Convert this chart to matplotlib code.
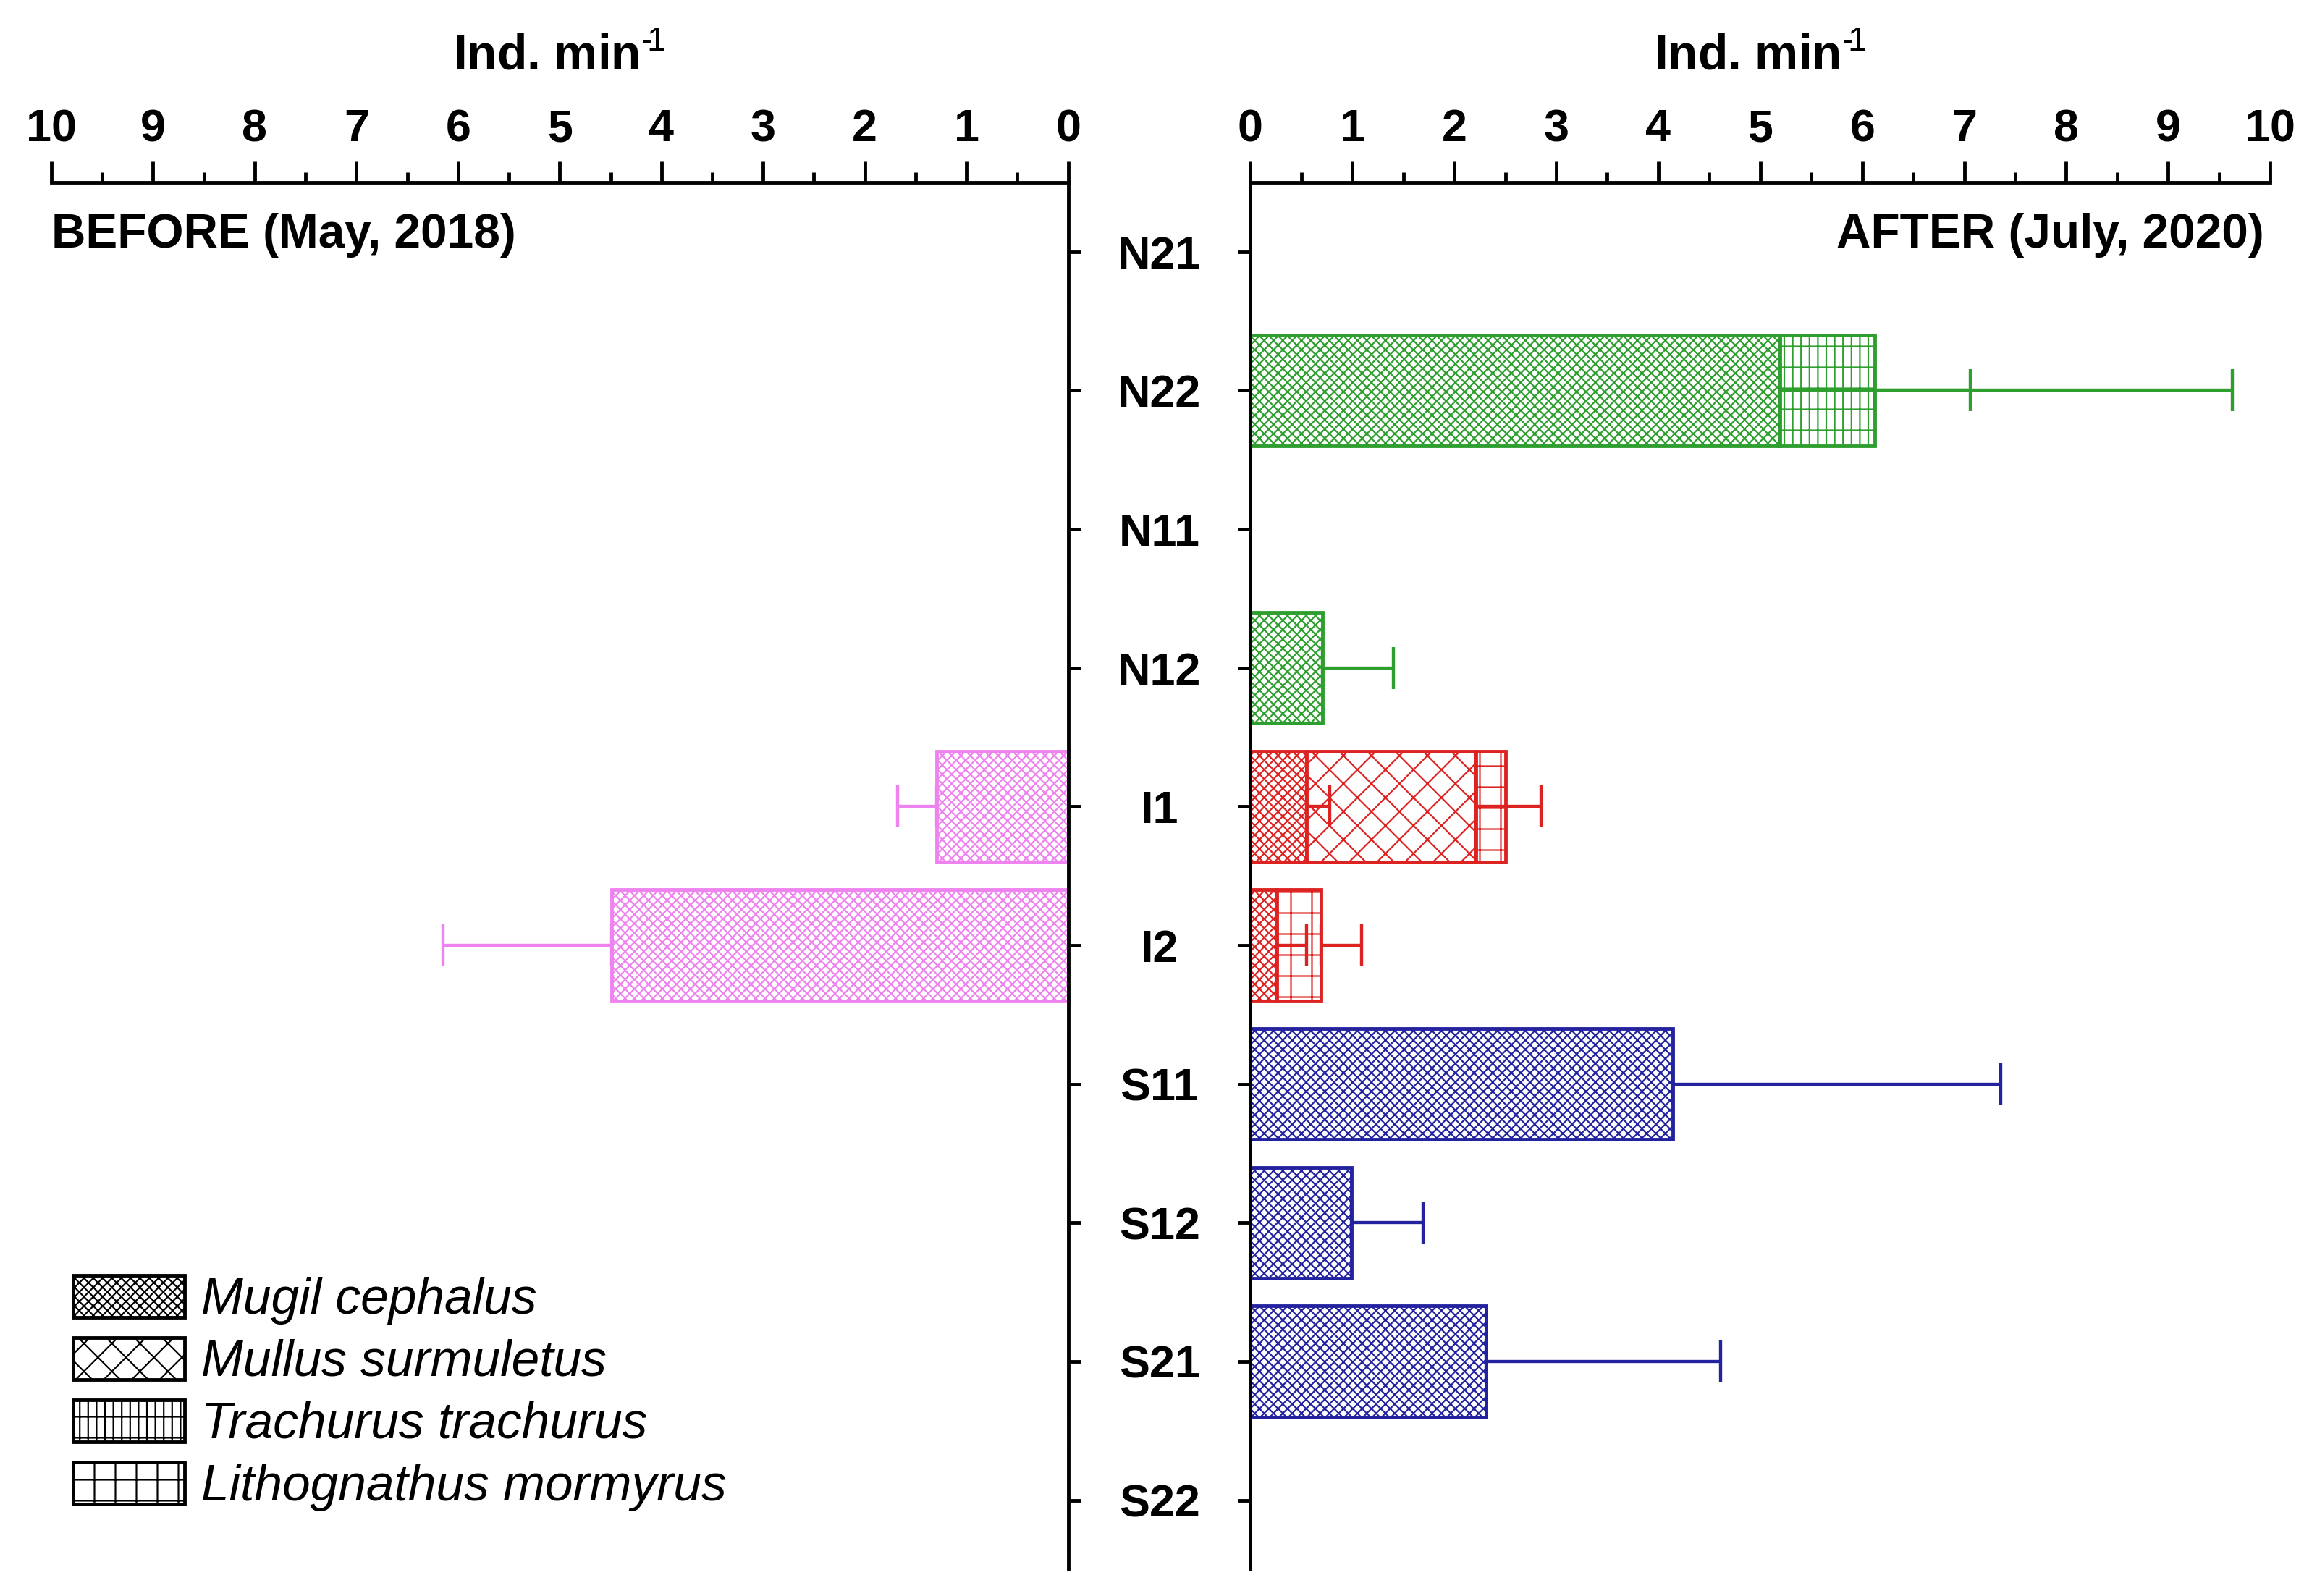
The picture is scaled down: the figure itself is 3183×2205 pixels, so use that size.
"""Before/after fish abundance per station, mirrored horizontal stacked bars."""

import matplotlib

matplotlib.use("Agg")
import matplotlib.pyplot as plt
import numpy as np
from matplotlib.patches import Patch
from matplotlib.ticker import MultipleLocator

# Stations (top to bottom) and species
stations = ["N21", "N22", "N11", "N12", "I1", "I2", "S11", "S12", "S21", "S22"]
species = ["Mugil cephalus", "Mullus surmuletus", "Trachurus trachurus", "Lithognathus mormyrus"]

# BEFORE (May, 2018): only Mugil cephalus recorded
before_mugil = [0, 0, 0, 0, 1.29, 4.49, 0, 0, 0, 0]
before_mugil_err = [0, 0, 0, 0, 0.39, 1.66, 0, 0, 0, 0]

# AFTER (July, 2020): stacked per species
after_mugil = [0, 5.19, 0, 0.71, 0.55, 0.26, 4.14, 0.99, 2.31, 0]
after_mugil_err = [0, 1.87, 0, 0.69, 0.23, 0.29, 3.22, 0.70, 2.30, 0]
after_mullus = [0, 0, 0, 0, 1.66, 0, 0, 0, 0, 0]
after_mullus_err = [0, 0, 0, 0, 0.64, 0, 0, 0, 0, 0]
after_trachurus = [0, 0.93, 0, 0, 0, 0, 0, 0, 0, 0]
after_trachurus_err = [0, 3.51, 0, 0, 0, 0, 0, 0, 0, 0]
after_litho = [0, 0, 0, 0, 0.29, 0.43, 0, 0, 0, 0]
after_litho_err = [0, 0, 0, 0, 0, 0.40, 0, 0, 0, 0]

xticks = list(range(0, 11))

# Styles
HATCHES = {"Mugil cephalus": "x" * 9, "Mullus surmuletus": "xxx",
           "Trachurus trachurus": "++|||", "Lithognathus mormyrus": "++"}
GROUP_COLORS = {"N": "#2e9e2e", "I": "#dd2222", "S": "#2323a0"}
BEFORE_COLOR = "#ee82ee"

DPI = 348
plt.rcParams["font.family"] = ["Liberation Sans", "DejaVu Sans"]
plt.rcParams["mathtext.fontset"] = "custom"
plt.rcParams["mathtext.bf"] = "Liberation Sans:bold"
plt.rcParams["mathtext.rm"] = "Liberation Sans"
plt.rcParams["hatch.linewidth"] = 0.45

fig = plt.figure(figsize=(3183 / DPI, 2205 / DPI), dpi=DPI)
ax_l = fig.add_axes([0.0223, 0.0166, 0.4413, 0.8692])
ax_r = fig.add_axes([0.5427, 0.0166, 0.4426, 0.8692])

y = np.arange(len(stations))
station_colors = [GROUP_COLORS[s[0]] for s in stations]
bar_h = 0.8


def draw_errors(ax, ends, errs, colors):
    for yi, e, v, c in zip(y, errs, ends, colors):
        if e > 0:
            ax.errorbar(v, yi, xerr=[[0], [e]], fmt="none", ecolor=c,
                        elinewidth=0.9, capsize=6, capthick=0.9, zorder=3)


# Left: BEFORE
ax_l.barh(y, before_mugil, height=bar_h, color="white", edgecolor=BEFORE_COLOR,
          hatch=HATCHES["Mugil cephalus"], linewidth=1.0, zorder=2)
draw_errors(ax_l, before_mugil, before_mugil_err, [BEFORE_COLOR] * len(y))

# Right: AFTER stacked
left = np.zeros(len(y))
for name, vals, errs in [
    ("Mugil cephalus", after_mugil, after_mugil_err),
    ("Mullus surmuletus", after_mullus, after_mullus_err),
    ("Trachurus trachurus", after_trachurus, after_trachurus_err),
    ("Lithognathus mormyrus", after_litho, after_litho_err),
]:
    vals = np.array(vals)
    mask = vals > 0
    ax_r.barh(y[mask], vals[mask], left=left[mask], height=bar_h, color="white",
              edgecolor=np.array(station_colors)[mask], hatch=HATCHES[name],
              linewidth=1.0, zorder=2)
    draw_errors(ax_r, left + vals, errs, station_colors)
    left = left + vals

# Axes styling
for ax in (ax_l, ax_r):
    ax.set_ylim(9.5, -0.5)
    ax.xaxis.tick_top()
    ax.xaxis.set_label_position("top")
    ax.set_xticks(xticks)
    ax.xaxis.set_minor_locator(MultipleLocator(0.5))
    ax.tick_params(axis="x", which="major", direction="out", length=6, width=1.0,
                   labelsize=13, pad=3)
    ax.tick_params(axis="x", which="minor", direction="out", length=3, width=1.0)
    for lab in ax.get_xticklabels():
        lab.set_fontweight("bold")
    ax.set_xlabel("Ind. min$^{\u2010\\!1}$", fontsize=14, fontweight="bold", labelpad=11)
    ax.spines["bottom"].set_visible(False)
    for sp in ax.spines.values():
        sp.set_linewidth(1.0)

ax_l.set_xlim(10, 0)
ax_l.spines["left"].set_visible(False)
ax_l.yaxis.tick_right()
ax_l.set_yticks(y)
ax_l.set_yticklabels([])
ax_l.tick_params(axis="y", direction="out", length=3.5, width=1.0)

ax_r.set_xlim(0, 10)
ax_r.spines["right"].set_visible(False)
ax_r.set_yticks(y)
ax_r.set_yticklabels(stations, fontsize=13, fontweight="bold", ha="center")
ax_r.tick_params(axis="y", direction="out", length=3.5, width=1.0, pad=22.5)

ax_l.text(0.0, 0.962, "BEFORE (May, 2018)", transform=ax_l.transAxes,
          ha="left", va="center", fontsize=13.6, fontweight="bold")
ax_r.text(0.994, 0.962, "AFTER (July, 2020)", transform=ax_r.transAxes,
          ha="right", va="center", fontsize=13.6, fontweight="bold")

handles = [Patch(facecolor="white", edgecolor="black", hatch=HATCHES[s], linewidth=1.0)
           for s in species]
leg = ax_l.legend(handles, species, loc="lower left", bbox_to_anchor=(0.0217, 0.042),
                  frameon=False, borderpad=0, borderaxespad=0, handlelength=2.2,
                  handleheight=0.9, handletextpad=0.33, labelspacing=0.26,
                  prop={"size": 14.4, "style": "italic"})

fig.savefig("out.png", dpi=DPI)
